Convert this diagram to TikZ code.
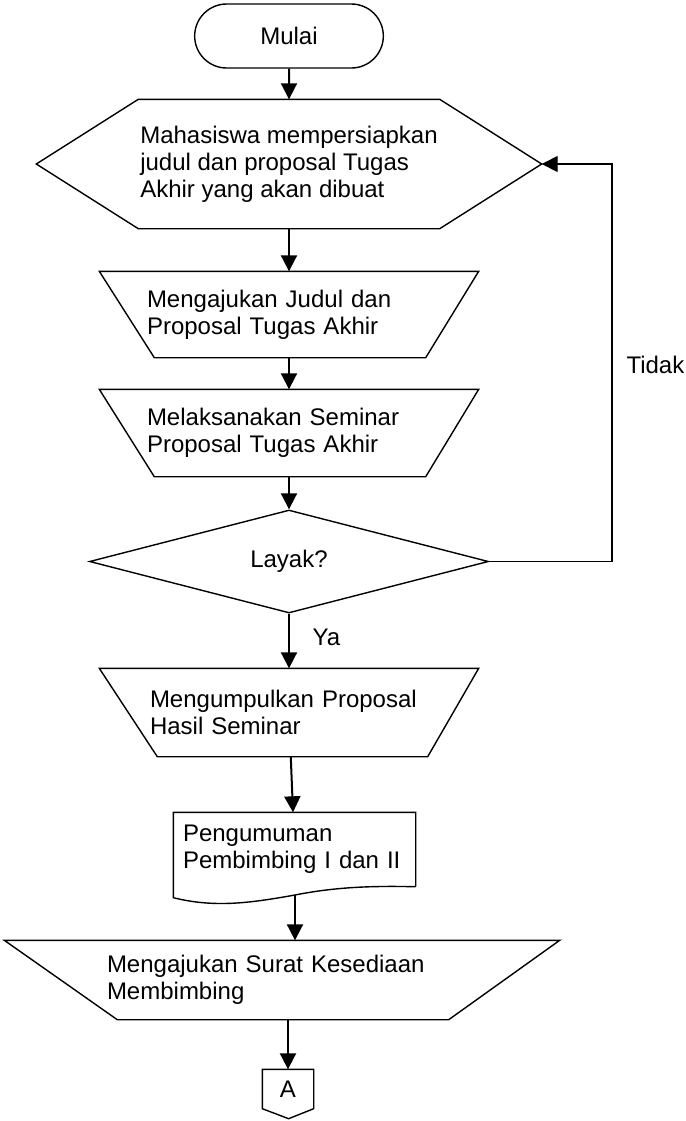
\documentclass[tikz,border=0pt]{standalone}
\usepackage{fontspec}
\setmainfont{Liberation Sans}
\usetikzlibrary{shapes.geometric,shapes.misc,arrows.meta}

\begin{document}
\begin{tikzpicture}[x=0.5pt,y=-0.5pt,
	font=\fontsize{12}{13.5}\selectfont,
	line width=0.7pt,
	proc/.style={inner sep=0pt, align=left},
	arr/.style={line width=1pt, -{Triangle[length=8pt,width=8pt]}}]
	\useasboundingbox (0,0) rectangle (686,1121);

	\node[draw, rounded rectangle, minimum width=101pt, minimum height=32pt] (mulai) at (289,36) {Mulai};

	\node[proc, minimum width=150pt, minimum height=64pt] (siap) at (289,164) {Mahasiswa mempersiapkan\\judul dan proposal Tugas\\Akhir yang akan dibuat};
	\coordinate (siapR) at ([xshift=51pt]siap.east);
	\draw (siap.north west) -- (siap.north east) -- (siapR) -- (siap.south east) -- (siap.south west) -- ([xshift=-51pt]siap.west) -- cycle;

	\node[proc, minimum width=189pt, minimum height=42.5pt, text width=142pt] (ajukan) at (289,314.5) {Mengajukan Judul dan\\Proposal Tugas Akhir};
	\draw (ajukan.north west) -- (ajukan.north east) -- ([xshift=-26.5pt]ajukan.south east) -- ([xshift=27.5pt]ajukan.south west) -- cycle;

	\node[proc, minimum width=189pt, minimum height=43pt, text width=142pt] (seminar) at (289,433) {Melaksanakan Seminar\\Proposal Tugas Akhir};
	\draw (seminar.north west) -- (seminar.north east) -- ([xshift=-26.5pt]seminar.south east) -- ([xshift=27.5pt]seminar.south west) -- cycle;

	\node[draw, diamond, minimum width=199.5pt, minimum height=51.5pt, inner sep=0pt] (layak) at (289,561.5) {Layak?};

	\node[proc, minimum width=189pt, minimum height=43.5pt, text width=139pt] (kumpul) at (289,712.5) {Mengumpulkan Proposal\\Hasil Seminar};
	\draw (kumpul.north west) -- (kumpul.north east) -- ([xshift=-25.5pt]kumpul.south east) -- ([xshift=29pt]kumpul.south west) -- cycle;

	\node[proc, minimum width=120.5pt, minimum height=36.5pt, text width=111.5pt] (umum) at (294.5,849.5) {Pengumuman\\Pembimbing I dan II};
	\draw (umum.south east) -- (umum.north east) -- (umum.north west) -- ([yshift=-5.5pt]umum.south west)
		.. controls (215,908) and (250,903) .. (295,895) coordinate (umumB)
		.. controls (340,886) and (380,886) .. (umum.south east);

	\node[proc, minimum width=277pt, minimum height=39pt, text width=175pt] (surat) at (282,980) {Mengajukan Surat Kesediaan\\Membimbing};
	\draw (surat.north west) -- (surat.north east) -- ([xshift=-55.5pt]surat.south east) -- ([xshift=56.5pt]surat.south west) -- cycle;

	\node[inner sep=0pt, minimum width=25pt, minimum height=19pt] (konA) at (288,1089) {A};
	\draw (konA.north west) -- (konA.north east) -- (konA.south east) -- ++(-25,10) -- (konA.south west) -- cycle;

	\draw[arr] (mulai) -- (siap);
	\draw[arr] (siap) -- (ajukan);
	\draw[arr] (ajukan) -- (seminar);
	\draw[arr] (seminar) -- (layak);
	\draw[arr] (layak) -- (kumpul) node[pos=0.43, anchor=west, xshift=8pt] (ya) {Ya};
	\draw[arr] (kumpul) -- (umum);
	\draw[arr] (umumB) -- (umumB |- surat.north);
	\draw[arr] (konA.north |- surat.south) -- (konA);

	\coordinate (balik) at (612,561.5);
	\draw[line width=0.7pt, -{Triangle[length=8pt,width=8pt]}] (layak.east) -- (balik) |- (siapR);
	\node[anchor=east, inner sep=0pt] (tidak) at (685,365) {Tidak};
\end{tikzpicture}
\end{document}
